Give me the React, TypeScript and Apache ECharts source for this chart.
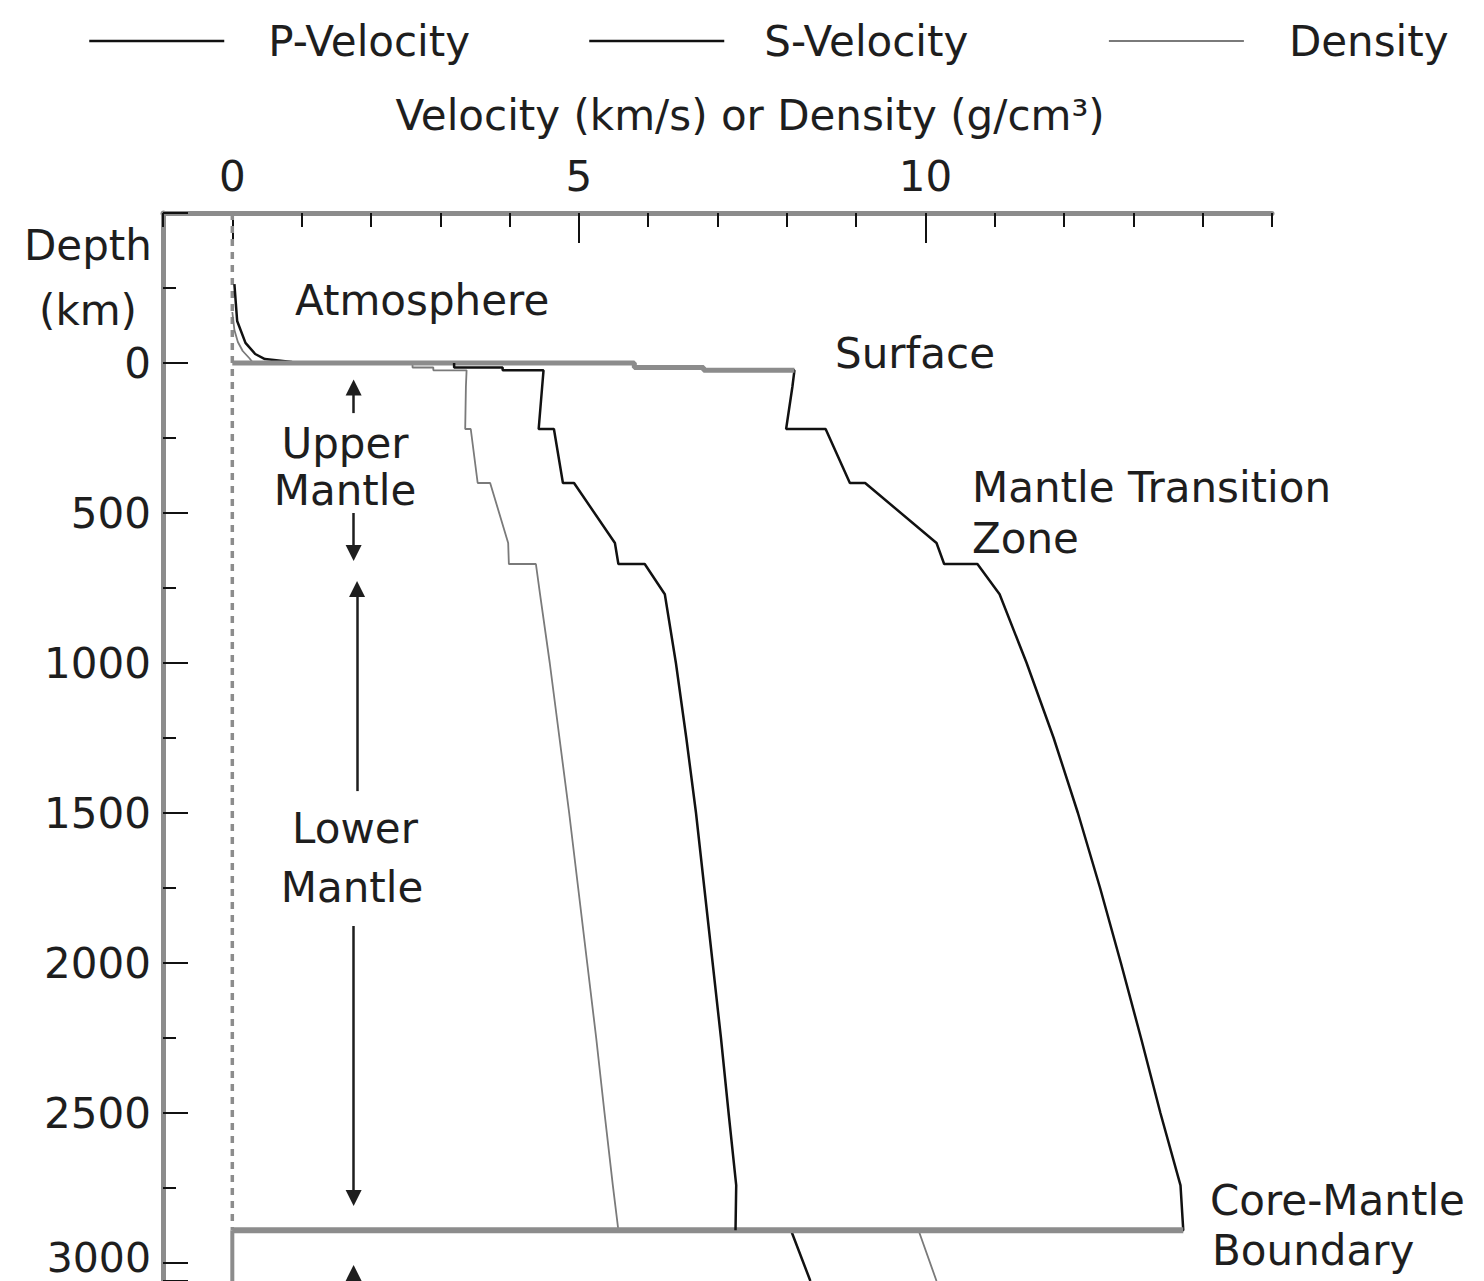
import React, { useEffect, useRef } from "react";
import * as echarts from "echarts";

const FONT = '"DejaVu Sans", "Liberation Sans", sans-serif';
const GRAY = "#8c8c8c";
const INK = "#1e1e1e";

// [velocity or density, depth km]
const pVelocity: [number, number][] = [
  [0.03, -263], [0.07, -140], [0.19, -67], [0.33, -30], [0.47, -13], [0.86, -3], [0.9, 0],
  [5.8, 0], [5.8, 15], [6.8, 15], [6.8, 24.4], [8.11, 24.4], [8.08, 80], [7.99, 220],
  [8.56, 220], [8.91, 400], [9.13, 400], [10.16, 600], [10.27, 670], [10.75, 670],
  [11.07, 771], [11.46, 1000], [11.85, 1250], [12.2, 1500], [12.52, 1750], [12.82, 2000],
  [13.11, 2250], [13.39, 2500], [13.68, 2741], [13.72, 2891],
  [8.06, 2891], [8.34, 3060],
];

const sVelocity: [number, number][] = [
  [3.2, 0], [3.2, 15], [3.9, 15], [3.9, 24.4], [4.49, 24.4], [4.47, 80], [4.42, 220],
  [4.64, 220], [4.77, 400], [4.93, 400], [5.52, 600], [5.57, 670], [5.95, 670],
  [6.24, 771], [6.4, 1000], [6.55, 1250], [6.69, 1500], [6.81, 1750], [6.93, 2000],
  [7.05, 2250], [7.16, 2500], [7.27, 2741], [7.26, 2891],
];

const density: [number, number][] = [
  [0.0, -170], [0.03, -110], [0.08, -70], [0.15, -40], [0.25, -15], [0.3, 0],
  [2.6, 0], [2.6, 15], [2.9, 15], [2.9, 24.4], [3.38, 24.4], [3.37, 80], [3.36, 220],
  [3.44, 220], [3.54, 400], [3.72, 400], [3.98, 600], [3.99, 670], [4.38, 670],
  [4.44, 771], [4.58, 1000], [4.72, 1250], [4.86, 1500], [4.99, 1750], [5.12, 2000],
  [5.25, 2250], [5.37, 2500], [5.49, 2741], [5.57, 2891],
  [9.9, 2891], [10.16, 3060],
];

const surfaceStep: [number, number][] = [
  [0, 0], [5.8, 0], [5.8, 15], [6.8, 15], [6.8, 24.4], [8.11, 24.4],
];
const cmbLine: [number, number][] = [[0, 2891], [13.72, 2891]];
const zeroLine: [number, number][] = [[0, -500], [0, 2891]];
const coreShear: [number, number][] = [[0, 2891], [0, 3060]];

// arrows: [x, fromDepth, toDepth]
const arrows: [number, number, number][] = [
  [1.75, 167, 82],
  [1.75, 500, 633],
  [1.8, 1427, 753],
  [1.75, 1877, 2783],
  [1.75, 3060, 3033],
];

const xMajor = [0, 5, 10];
const X_MIN = -1;
const X_MAX = 15;
const Y_MIN = -500;
const Y_MAX = 3060;

const App: React.FC = () => {
  const ref = useRef<HTMLDivElement>(null);

  useEffect(() => {
    if (!ref.current) return;
    const chart = echarts.init(ref.current, undefined, { renderer: "svg" });

    const txt = (text: string, x: number, y: number, align: string = "left") => ({
      type: "text",
      x,
      y,
      silent: true,
      style: {
        text,
        fill: INK,
        fontSize: 42,
        fontFamily: FONT,
        align,
        verticalAlign: "middle",
      },
    });

    const legendBase = (name: string, left: number, pad: number, width: number) => ({
      data: [name],
      left,
      top: 15,
      itemWidth: 135,
      itemHeight: 14,
      selectedMode: false,
      itemStyle: { color: "rgba(0,0,0,0)", borderColor: "rgba(0,0,0,0)", borderWidth: 0 },
      lineStyle: { width },
      textStyle: { fontSize: 42, fontFamily: FONT, color: INK, padding: [0, 0, 0, pad] },
    });

    const option: any = {
      animation: false,
      backgroundColor: "#ffffff",
      legend: [
        legendBase("P-Velocity", 83, 39, 2.5),
        legendBase("S-Velocity", 583, 35, 2.5),
        legendBase("Density", 1103, 40, 1.8),
      ],
      grid: {
        left: 163,
        right: 212,
        top: 213,
        bottom: 0,
        containLabel: false,
        outerBoundsMode: "none",
      },
      xAxis: [
        {
          type: "value",
          position: "top",
          min: X_MIN,
          max: X_MAX,
          interval: 1,
          axisLine: { show: true, onZero: false, lineStyle: { color: GRAY, width: 5 } },
          axisTick: { show: true, inside: true, length: 14, lineStyle: { color: "#111", width: 2 } },
          axisLabel: { show: false },
          splitLine: { show: false },
        },
        {
          type: "value",
          position: "top",
          min: X_MIN,
          max: X_MAX,
          axisLine: { show: false, onZero: false },
          axisTick: { show: true, inside: true, length: 30, customValues: xMajor, lineStyle: { color: "#111", width: 2 } },
          axisLabel: {
            show: true,
            customValues: xMajor,
            margin: 16,
            fontSize: 42,
            fontFamily: FONT,
            color: INK,
          },
          splitLine: { show: false },
        },
      ],
      yAxis: [
        {
          type: "value",
          position: "left",
          inverse: true,
          min: Y_MIN,
          max: Y_MAX,
          interval: 250,
          axisLine: { show: true, onZero: false, lineStyle: { color: GRAY, width: 5 } },
          axisTick: { show: true, inside: true, length: 13, lineStyle: { color: "#111", width: 2 } },
          axisLabel: { show: false },
          splitLine: { show: false },
        },
        {
          type: "value",
          position: "left",
          inverse: true,
          min: Y_MIN,
          max: Y_MAX,
          interval: 500,
          axisLine: { show: false, onZero: false },
          axisTick: { show: true, inside: true, length: 25, lineStyle: { color: "#111", width: 2 } },
          axisLabel: {
            show: true,
            margin: 12,
            fontSize: 42,
            lineHeight: 34,
            fontFamily: FONT,
            color: INK,
            formatter: (v: number) =>
              v === 3000 ? "{low|3000}" : v >= 0 && v % 500 === 0 ? String(v) : "",
            rich: {
              low: {
                fontSize: 41,
                fontFamily: FONT,
                color: INK,
                lineHeight: 34,
                padding: [0, 0, 10, 0],
              },
            },
          },
          splitLine: { show: false },
        },
      ],
      series: [
        {
          name: "zero",
          type: "line",
          data: zeroLine,
          symbol: "none",
          z: 1,
          lineStyle: { color: GRAY, width: 3.5, type: [7, 6] },
          markLine: {
            silent: true,
            symbol: ["none", "triangle"],
            symbolSize: 16,
            label: { show: false },
            lineStyle: { color: INK, width: 2.5, type: "solid" },
            itemStyle: { color: INK },
            emphasis: { disabled: true },
            data: arrows.map(([x, d0, d1]) => [{ coord: [x, d0] }, { coord: [x, d1] }]),
          },
        },
        {
          name: "coreShear",
          type: "line",
          data: coreShear,
          symbol: "none",
          z: 1,
          lineStyle: { color: GRAY, width: 4 },
        },
        {
          name: "Density",
          type: "line",
          data: density,
          symbol: "none",
          z: 2,
          lineStyle: { color: "#7a7a7a", width: 1.8 },
          itemStyle: { color: "#7a7a7a" },
        },
        {
          name: "P-Velocity",
          type: "line",
          data: pVelocity,
          symbol: "none",
          z: 3,
          lineStyle: { color: "#111", width: 2.5 },
          itemStyle: { color: "#111" },
        },
        {
          name: "surface",
          type: "line",
          data: surfaceStep,
          symbol: "none",
          z: 4,
          lineStyle: { color: GRAY, width: 5 },
        },
        {
          name: "cmb",
          type: "line",
          data: cmbLine,
          symbol: "none",
          z: 4,
          lineStyle: { color: GRAY, width: 6 },
        },
        {
          name: "S-Velocity",
          type: "line",
          data: sVelocity,
          symbol: "none",
          z: 5,
          lineStyle: { color: "#111", width: 2.5 },
          itemStyle: { color: "#111" },
        },
      ],
      graphic: [
        txt("Velocity (km/s) or Density (g/cm³)", 750, 115, "center"),
        txt("Depth", 88, 245, "center"),
        txt("(km)", 88, 310, "center"),
        txt("Atmosphere", 295, 300),
        txt("Surface", 835, 353),
        txt("Upper", 345, 443, "center"),
        txt("Mantle", 345, 490, "center"),
        txt("Mantle Transition", 972, 487),
        txt("Zone", 972, 538),
        txt("Lower", 355, 828, "center"),
        txt("Mantle", 352, 887, "center"),
        txt("Core-Mantle", 1210, 1200),
        txt("Boundary", 1212, 1250),
      ],
    };

    chart.setOption(option);
    return () => chart.dispose();
  }, []);

  return (
    <div
      ref={ref}
      style={{ position: "absolute", left: 0, top: 0, width: 1484, height: 1281, background: "#fff" }}
    />
  );
};

export default App;
